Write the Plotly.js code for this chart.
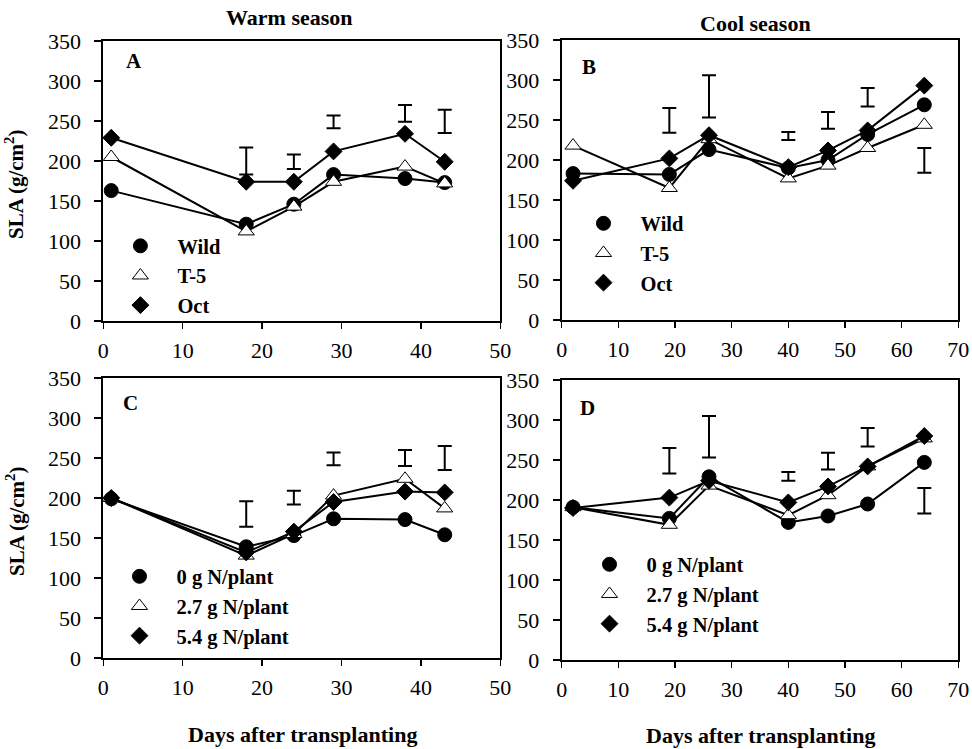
<!DOCTYPE html>
<html>
<head>
<meta charset="utf-8">
<script src="https://cdn.plot.ly/plotly-3.0.1.min.js"></script>
<style>html,body{margin:0;padding:0;background:#fff;}#chart{width:972px;height:749px;}</style>
</head>
<body>
<div id="chart"></div>
<script>
// ---------- data ----------
const daysWarm = [1, 18, 24, 29, 38, 43];
const daysCool = [2, 19, 26, 40, 47, 54, 64];
const errDaysWarm = [18, 24, 29, 38, 43];
const errDaysCool = [19, 26, 40, 47, 54, 64];

const genotypeNames = ["Wild", "T-5", "Oct"];
const nitrogenNames = ["0 g N/plant", "2.7 g N/plant", "5.4 g N/plant"];

// Panel A (warm season, genotypes)
const A_wild = [163, 121, 146, 183, 178, 173];
const A_t5   = [205, 112, 143, 174, 193, 172];
const A_oct  = [229, 174, 174, 212, 234, 199];
const A_errLo = [183, 190, 241, 249, 235];
const A_errHi = [217, 208, 257, 270, 264];

// Panel B (cool season, genotypes)
const B_wild = [183, 182, 213, 190, 200, 232, 269];
const B_t5   = [218, 165, 226, 177, 193, 215, 244];
const B_oct  = [174, 202, 231, 191, 212, 237, 293];
const B_errLo = [234, 253, 225, 239, 267, 184];
const B_errHi = [265, 306, 235, 260, 290, 215];

// Panel C (warm season, nitrogen)
const C_n0  = [199, 139, 153, 174, 173, 154];
const C_n27 = [200, 128, 155, 203, 224, 187];
const C_n54 = [200, 132, 158, 195, 208, 207];
const C_errLo = [164, 192, 241, 240, 235];
const C_errHi = [196, 209, 257, 260, 265];

// Panel D (cool season, nitrogen)
const D_n0  = [191, 177, 229, 172, 180, 195, 247];
const D_n27 = [191, 169, 218, 181, 206, 242, 277];
const D_n54 = [190, 203, 224, 197, 217, 242, 280];
const D_errLo = [233, 253, 224, 238, 267, 183];
const D_errHi = [265, 305, 235, 259, 290, 215];

// ---------- layout helpers ----------
const W = 972, H = 749;
const px = p => p / W;
const py = p => 1 - p / H;
const SERIF = "Liberation Serif";

const styles = [
  {symbol: "circle", size: 14, color: "#000", line: {color: "#000", width: 1}},
  {symbol: "triangle-up", size: 14, color: "#fff", line: {color: "#000", width: 1}},
  {symbol: "diamond", size: 13, color: "#000", line: {color: "#000", width: 1}}
];

const traces = [];

function errTrace(days, lo, hi, xa, ya) {
  const mid = lo.map((v, i) => (v + hi[i]) / 2);
  const half = lo.map((v, i) => (hi[i] - v) / 2);
  traces.push({
    x: days, y: mid, xaxis: xa, yaxis: ya, type: "scatter", mode: "markers",
    marker: {size: 1, color: "rgba(0,0,0,0)"}, showlegend: false, hoverinfo: "skip",
    error_y: {type: "data", array: half, symmetric: true, color: "#000", thickness: 2, width: 7}
  });
}

function seriesTraces(days, series, names, xa, ya, legendId) {
  series.forEach((vals, i) => {
    traces.push({
      x: days, y: vals, xaxis: xa, yaxis: ya, type: "scatter", mode: "lines",
      line: {color: "#000", width: 2}, showlegend: false, hoverinfo: "skip"
    });
    traces.push({
      x: days, y: vals, name: names[i], xaxis: xa, yaxis: ya, type: "scatter",
      mode: "markers", marker: styles[i], legend: legendId,
      legendgroup: legendId + "_" + i, cliponaxis: false
    });
  });
}

errTrace(errDaysWarm, A_errLo, A_errHi, "x", "y");
seriesTraces(daysWarm, [A_wild, A_t5, A_oct], genotypeNames, "x", "y", "legend");
errTrace(errDaysCool, B_errLo, B_errHi, "x2", "y2");
seriesTraces(daysCool, [B_wild, B_t5, B_oct], genotypeNames, "x2", "y2", "legend2");
errTrace(errDaysWarm, C_errLo, C_errHi, "x3", "y3");
seriesTraces(daysWarm, [C_n0, C_n27, C_n54], nitrogenNames, "x3", "y3", "legend3");
errTrace(errDaysCool, D_errLo, D_errHi, "x4", "y4");
seriesTraces(daysCool, [D_n0, D_n27, D_n54], nitrogenNames, "x4", "y4", "legend4");

function xAxis(range, d0, d1, anchor) {
  return {
    domain: [px(d0), px(d1)], range: range, dtick: 10, anchor: anchor,
    showline: true, mirror: true, linecolor: "#000", linewidth: 2,
    ticks: "outside", ticklen: 6, tickwidth: 1.5, tickcolor: "#000",
    ticklabelstandoff: 3, showgrid: false, zeroline: false, fixedrange: true,
    tickfont: {family: SERIF, size: 22, color: "#000"}
  };
}
function yAxis(top, bottom, anchor) {
  return {
    domain: [py(bottom), py(top)], range: [0, 350], dtick: 50, anchor: anchor,
    showline: true, mirror: true, linecolor: "#000", linewidth: 2,
    ticks: "outside", ticklen: 7, tickwidth: 1.5, tickcolor: "#000",
    ticklabelstandoff: 9, showgrid: false, zeroline: false, fixedrange: true,
    tickfont: {family: SERIF, size: 22, color: "#000"}
  };
}
function legendAt(xpx, ypx) {
  return {
    x: px(xpx), y: py(ypx), xanchor: "left", yanchor: "top",
    bgcolor: "rgba(0,0,0,0)", borderwidth: 0, itemwidth: 64, tracegroupgap: 0,
    font: {family: SERIF, size: 20.5, color: "#000", weight: "bold"}
  };
}
function ann(text, xpx, ypx, size, extra) {
  return Object.assign({
    text: text, xref: "paper", yref: "paper", x: px(xpx), y: py(ypx),
    xanchor: "center", yanchor: "middle", showarrow: false,
    font: {family: SERIF, size: size, color: "#000", weight: "bold"}
  }, extra || {});
}

const layout = {
  width: W, height: H, margin: {l: 0, r: 0, t: 0, b: 0},
  paper_bgcolor: "#fff", plot_bgcolor: "#fff", showlegend: true,
  xaxis:  xAxis([0, 50], 103.3, 500.3, "y"),
  yaxis:  yAxis(41, 321, "x"),
  xaxis2: xAxis([0, 70], 561.7, 958.3, "y2"),
  yaxis2: yAxis(40, 320, "x2"),
  xaxis3: xAxis([0, 50], 103.3, 500.3, "y3"),
  yaxis3: yAxis(378, 658, "x3"),
  xaxis4: xAxis([0, 70], 561.7, 958.3, "y4"),
  yaxis4: yAxis(380, 660, "x4"),
  legend:  legendAt(103.4, 226),
  legend2: legendAt(566.5, 203.5),
  legend3: legendAt(102.5, 556.5),
  legend4: legendAt(572.5, 544.5),
  annotations: [
    ann("Warm season", 289.5, 17, 22),
    ann("Cool season", 755, 23, 22),
    ann("Days after transplanting", 302, 734, 22),
    ann("Days after transplanting", 760, 735, 22),
    ann("SLA (g/cm<sup>2</sup>)", 15, 185, 21, {textangle: -90}),
    ann("SLA (g/cm<sup>2</sup>)", 15, 522, 21, {textangle: -90}),
    ann("A", 134, 61, 21),
    ann("B", 589, 67, 21),
    ann("C", 130, 403, 21),
    ann("D", 587, 408, 21)
  ]
};

Plotly.newPlot("chart", traces, layout, {staticPlot: true, displayModeBar: false});
</script>
</body>
</html>
